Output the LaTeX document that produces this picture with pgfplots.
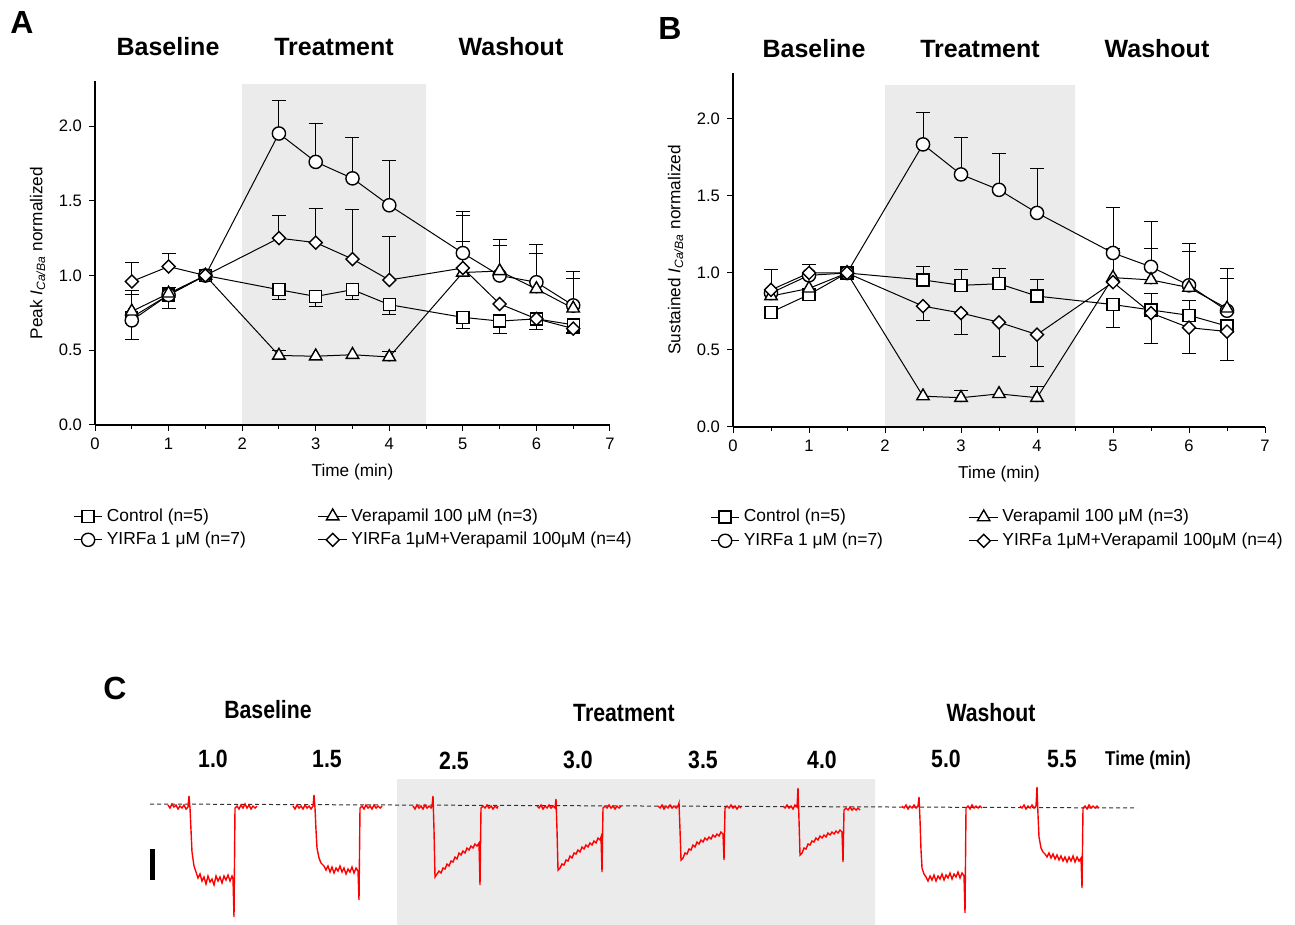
\documentclass[border=0pt]{standalone}
\usepackage{fontspec}
\setmainfont{Liberation Sans}
\usepackage{pgfplots}
\pgfplotsset{compat=1.18}
\definecolor{shade}{RGB}{235,235,235}
\definecolor{trace}{RGB}{255,0,0}
\pgfplotsset{
  panel/.style={
    scale only axis, axis on top,
    axis x line*=bottom, axis y line*=left,
    axis line style={-, line width=0.6pt},
    xmin=0, xmax=7, ymin=0, ymax=2.3,
    xtick={0,1,...,7}, minor xtick={0.5,1.5,...,6.5},
    ytick={0,0.5,...,2.0},
    tick align=outside, major tick length=3pt, minor tick length=2pt,
    tick style={line width=0.5pt, black},
    /pgf/number format/assume math mode=true,
    yticklabel style={/pgf/number format/.cd, fixed, fixed zerofill, precision=1},
    ticklabel style={font=\fontsize{8.3}{10}\selectfont},
    label style={font=\fontsize{8.6}{10}\selectfont},
    xlabel={Time (min)},
    clip=false,
    legend columns=2, transpose legend,
    legend style={draw=none, fill=none, inner sep=0pt, anchor=north west,
      font=\fontsize{8.7}{10.5}\selectfont, legend cell align=left,
      /tikz/column 2/.style={column sep=34pt}},
    legend image code/.code={\draw[mark repeat=2,mark phase=2] plot coordinates {(0cm,0cm) (0.25cm,0cm) (0.5cm,0cm)};},
    every axis plot/.append style={black, line width=0.5pt},
  },
  sq/.style={mark=square*, mark size=3pt, mark options={fill=white, line width=0.7pt, solid}},
  ci/.style={mark=*, mark size=3.3pt, mark options={fill=white, line width=0.7pt, solid}},
  tr/.style={mark=triangle*, mark size=3.6pt, mark options={fill=white, line width=0.7pt, solid}},
  di/.style={mark=square*, mark size=2.3pt, mark options={fill=white, line width=0.7pt, solid, rotate=45}},
  ebup/.style={forget plot, only marks, mark=none, error bars/.cd, y dir=plus, y explicit, error mark=-,
     error bar style={draw=black, solid, line width=0.5pt}, error mark options={rotate=90, mark size=3.5pt, line width=0.5pt, draw=black}},
  ebdn/.style={forget plot, only marks, mark=none, error bars/.cd, y dir=minus, y explicit, error mark=-,
     error bar style={draw=black, solid, line width=0.5pt}, error mark options={rotate=90, mark size=3.5pt, line width=0.5pt, draw=black}},
}
\begin{document}
\begin{tikzpicture}
\useasboundingbox (0,0) rectangle (647.5pt,462.5pt);
% ---------- overlay in pixel units: panel C and all headings ----------
\begin{axis}[at={(323.75pt,231.25pt)}, anchor=center, scale only axis,
  width=647.5pt, height=462.5pt, xmin=0, xmax=1295, ymin=0, ymax=925,
  y dir=reverse, hide axis, clip=false]
\addplot[fill=shade, draw=none] coordinates {(397,779)(875,779)(875,925)(397,925)(397,779)};
\addplot[black!80, line width=0.5pt, dash pattern=on 2pt off 1.5pt] coordinates {(150,804)(1137,808)};
% traces
\addplot[trace, line width=0.7pt] coordinates {(168,805)(170,808)(172,804)(174,807)(176,805)(178,809)(180,806)(182,808)(184,805)(186,809)(188,807)(189,796)(190,808)(191,830)(192,852)(194,866)(196,872)(198,878)(200,874)(202,881)(204,877)(206,884)(208,876)(210,882)(212,879)(214,885)(216,876)(218,881)(220,877)(222,883)(224,876)(226,880)(228,875)(230,881)(232,876)(233,879)(234,917)(235,808)(237,806)(239,809)(241,805)(243,808)(245,804)(247,808)(249,805)(251,809)(253,806)(255,808)(257,806)};
\addplot[trace, line width=0.7pt] coordinates {(293,806)(295,809)(297,805)(299,808)(301,806)(303,809)(305,805)(307,808)(309,806)(311,809)(313,806)(314,795)(315,808)(316,830)(317,848)(319,858)(321,863)(324,866)(326,870)(328,866)(330,872)(332,867)(334,873)(336,868)(338,871)(340,866)(342,872)(344,868)(346,874)(348,869)(350,872)(352,867)(354,873)(356,868)(358,871)(359,900)(360,808)(362,806)(364,809)(366,805)(368,808)(370,806)(372,809)(374,805)(376,808)(378,806)(380,808)(382,806)};
\addplot[trace, line width=0.7pt] coordinates {(413,806)(415,809)(417,805)(419,808)(421,806)(423,809)(425,805)(427,808)(429,806)(431,808)(432,806)(433,796)(434,830)(435,877)(437,874)(439,871)(441,873)(443,868)(445,869)(447,864)(449,866)(451,861)(453,862)(455,857)(457,859)(459,853)(461,855)(463,851)(465,853)(467,848)(469,850)(471,846)(473,848)(475,844)(477,846)(479,843)(480,885)(481,808)(483,806)(485,808)(487,805)(489,808)(491,806)(493,809)(495,806)(497,808)(498,806)};
\addplot[trace, line width=0.7pt] coordinates {(537,806)(539,808)(541,805)(543,809)(545,806)(547,808)(549,805)(551,808)(553,806)(555,808)(556,799)(557,830)(558,870)(560,868)(562,864)(564,865)(566,860)(568,861)(570,856)(572,858)(574,853)(576,854)(578,850)(580,852)(582,847)(584,849)(586,845)(588,847)(590,843)(592,845)(594,841)(596,843)(598,838)(600,840)(601,837)(602,872)(603,808)(605,806)(607,808)(609,805)(611,808)(613,806)(615,809)(617,806)(619,808)(621,806)};
\addplot[trace, line width=0.7pt] coordinates {(658,806)(660,808)(662,805)(664,809)(666,806)(668,808)(670,805)(672,808)(674,806)(676,808)(678,806)(679,803)(680,830)(681,860)(683,858)(685,853)(687,854)(689,849)(691,850)(693,845)(695,847)(697,842)(699,844)(701,840)(703,842)(705,838)(707,840)(709,837)(711,839)(713,835)(715,837)(717,834)(719,836)(721,832)(723,834)(724,860)(725,808)(727,806)(729,808)(731,805)(733,808)(735,806)(737,809)(739,806)(741,808)};
\addplot[trace, line width=0.7pt] coordinates {(783,806)(785,808)(787,805)(789,808)(791,806)(793,809)(795,805)(797,807)(798,788)(799,820)(800,855)(802,853)(804,848)(806,849)(808,844)(810,845)(812,841)(814,842)(816,838)(818,840)(820,836)(822,838)(824,835)(826,837)(828,833)(830,835)(832,832)(834,834)(836,831)(838,833)(840,830)(842,832)(843,862)(844,810)(846,808)(848,810)(850,807)(852,810)(854,808)(856,810)(858,808)(860,810)};
\addplot[trace, line width=0.7pt] coordinates {(902,806)(904,808)(906,805)(908,809)(910,806)(912,808)(914,805)(916,808)(918,806)(919,797)(920,820)(921,850)(922,868)(924,874)(926,877)(928,881)(930,876)(932,880)(934,875)(936,881)(938,876)(940,879)(942,874)(944,880)(946,875)(948,878)(950,873)(952,879)(954,874)(956,877)(958,872)(960,878)(962,873)(964,876)(965,913)(966,808)(968,806)(970,809)(972,805)(974,808)(976,806)(978,808)(980,806)(982,808)};
\addplot[trace, line width=0.7pt] coordinates {(1020,806)(1022,808)(1024,805)(1026,809)(1028,806)(1030,808)(1032,805)(1034,808)(1036,806)(1037,787)(1038,815)(1039,837)(1041,848)(1043,852)(1045,854)(1047,857)(1049,853)(1051,858)(1053,854)(1055,859)(1057,855)(1059,860)(1061,856)(1063,861)(1065,857)(1067,862)(1069,857)(1071,861)(1073,856)(1075,862)(1077,857)(1079,861)(1081,858)(1082,888)(1083,808)(1085,806)(1087,809)(1089,805)(1091,808)(1093,806)(1095,808)(1097,806)(1099,808)};
% scale bar
\addplot[black, line width=2.5pt] coordinates {(152,849)(152,880)};
% panel letters
\node[font=\fontsize{16}{18}\selectfont\bfseries] at (axis cs:22,22) {A};
\node[font=\fontsize{16}{18}\selectfont\bfseries] at (axis cs:670,28) {B};
\node[font=\fontsize{16}{18}\selectfont\bfseries] at (axis cs:115,688) {C};
% headings A and B
\begin{scope}[every node/.style={font=\fontsize{12.5}{14}\selectfont\bfseries}]
\node at (axis cs:168,47) {Baseline};
\node at (axis cs:334,47) {Treatment};
\node at (axis cs:511,47) {Washout};
\node at (axis cs:814,49) {Baseline};
\node at (axis cs:980,49) {Treatment};
\node at (axis cs:1157,49) {Washout};
\end{scope}
% headings C
\begin{scope}[every node/.style={font=\fontsize{12.5}{14}\selectfont\bfseries, xscale=0.85}]
\node at (axis cs:268,710) {Baseline};
\node at (axis cs:624,713) {Treatment};
\node at (axis cs:991,713) {Washout};
\node at (axis cs:213,759) {1.0};
\node at (axis cs:327,759) {1.5};
\node at (axis cs:454,761) {2.5};
\node at (axis cs:578,760) {3.0};
\node at (axis cs:703,760) {3.5};
\node at (axis cs:822,760) {4.0};
\node at (axis cs:946,759) {5.0};
\node at (axis cs:1062,759) {5.5};
\end{scope}
\node[font=\fontsize{10}{12}\selectfont\bfseries, xscale=0.85] at (axis cs:1148,760) {Time (min)};
\end{axis}
% ---------- Panel A ----------
\begin{axis}[panel, at={(47.5pt,250pt)}, anchor=south west, width=257.5pt, height=171.9pt,
  ylabel={Peak \textit{I}\textsubscript{\textit{Ca/Ba}} normalized},
  legend style={at={(-0.0427,-0.2298)}}]
\addplot[fill=shade, draw=none, forget plot] coordinates {(2,0)(4.5,0)(4.5,2.28)(2,2.28)(2,0)};
\addplot[ebup] coordinates {
 (0.5,0.72) +- (0,0.15)
 (2.5,1.95) +- (0,0.22) (3,1.76) +- (0,0.26) (3.5,1.65) +- (0,0.27) (4,1.47) +- (0,0.30)
 (5,1.15) +- (0,0.28) (5.5,1.00) +- (0,0.24) (6,0.955) +- (0,0.25) (6.5,0.80) +- (0,0.23)
 (0.5,0.76) +- (0,0.14) (1,0.88) +- (0,0.04) (2.5,0.465) +- (0,0.035) (4,0.455) +- (0,0.035)
 (5,1.02) +- (0,0.38) (5.5,1.03) +- (0,0.17) (6,0.91) +- (0,0.24) (6.5,0.78) +- (0,0.20)
 (0.5,0.96) +- (0,0.13) (1,1.06) +- (0,0.09) (2.5,1.25) +- (0,0.15) (3,1.22) +- (0,0.23)
 (3.5,1.11) +- (0,0.33) (4,0.97) +- (0,0.29) (5,1.05) +- (0,0.18)};
\addplot[ebdn] coordinates {
 (2.5,0.905) +- (0,0.065) (3,0.86) +- (0,0.07) (3.5,0.905) +- (0,0.065) (4,0.805) +- (0,0.065)
 (5,0.72) +- (0,0.075) (5.5,0.695) +- (0,0.08) (6,0.71) +- (0,0.07) (6.5,0.67) +- (0,0.05)
 (0.5,0.70) +- (0,0.13) (1,0.87) +- (0,0.09) (6.5,0.645) +- (0,0.03)};
\addplot[sq] coordinates {(0.5,0.72)(1,0.87)(1.5,1.0)(2.5,0.905)(3,0.86)(3.5,0.905)(4,0.805)(5,0.72)(5.5,0.695)(6,0.71)(6.5,0.67)};
\addlegendentry{Control (n=5)}
\addplot[ci] coordinates {(0.5,0.70)(1,0.87)(1.5,1.0)(2.5,1.95)(3,1.76)(3.5,1.65)(4,1.47)(5,1.15)(5.5,1.00)(6,0.955)(6.5,0.80)};
\addlegendentry{YIRFa 1 μM (n=7)}
\addplot[tr] coordinates {(0.5,0.76)(1,0.88)(1.5,1.0)(2.5,0.465)(3,0.46)(3.5,0.47)(4,0.455)(5,1.02)(5.5,1.03)(6,0.91)(6.5,0.78)};
\addlegendentry{Verapamil 100 μM (n=3)}
\addplot[di] coordinates {(0.5,0.96)(1,1.06)(1.5,1.0)(2.5,1.25)(3,1.22)(3.5,1.11)(4,0.97)(5,1.05)(5.5,0.81)(6,0.71)(6.5,0.645)};
\addlegendentry{YIRFa 1μM+Verapamil 100μM (n=4)}
\end{axis}
% ---------- Panel B ----------
\begin{axis}[panel, at={(366.5pt,249pt)}, anchor=south west, width=266pt, height=177.1pt,
  ylabel={Sustained \textit{I}\textsubscript{\textit{Ca/Ba}} normalized},
  legend style={at={(-0.0432,-0.2202)}, /tikz/column 2/.style={column sep=41pt}}]
\addplot[fill=shade, draw=none, forget plot] coordinates {(2,0)(4.5,0)(4.5,2.22)(2,2.22)(2,0)};
\addplot[ebup] coordinates {
 (0.5,0.89) +- (0,0.13) (1,0.985) +- (0,0.067)
 (2.5,1.835) +- (0,0.205) (3,1.64) +- (0,0.24) (3.5,1.54) +- (0,0.235) (4,1.39) +- (0,0.29)
 (5,1.13) +- (0,0.295) (5.5,1.04) +- (0,0.295) (6,0.92) +- (0,0.27) (6.5,0.755) +- (0,0.21)
 (2.5,0.955) +- (0,0.085) (3,0.92) +- (0,0.105) (3.5,0.93) +- (0,0.10) (4,0.85) +- (0,0.11)
 (5.5,0.76) +- (0,0.11) (6,0.725) +- (0,0.095)
 (3,0.19) +- (0,0.05) (4,0.19) +- (0,0.07) (5,0.97) +- (0,0.19) (5.5,0.955) +- (0,0.205)
 (6,0.905) +- (0,0.235) (6.5,0.77) +- (0,0.26)};
\addplot[ebdn] coordinates {
 (2.5,0.785) +- (0,0.095) (3,0.74) +- (0,0.14) (3.5,0.68) +- (0,0.225) (4,0.60) +- (0,0.205)
 (5.5,0.74) +- (0,0.20) (6,0.645) +- (0,0.17) (6.5,0.62) +- (0,0.19) (5,0.795) +- (0,0.15)};
\addplot[sq] coordinates {(0.5,0.745)(1,0.86)(1.5,1.0)(2.5,0.955)(3,0.92)(3.5,0.93)(4,0.85)(5,0.795)(5.5,0.76)(6,0.725)(6.5,0.655)};
\addlegendentry{Control (n=5)}
\addplot[ci] coordinates {(0.5,0.87)(1,0.985)(1.5,1.0)(2.5,1.835)(3,1.64)(3.5,1.54)(4,1.39)(5,1.13)(5.5,1.04)(6,0.92)(6.5,0.755)};
\addlegendentry{YIRFa 1 μM (n=7)}
\addplot[tr] coordinates {(0.5,0.85)(1,0.90)(1.5,1.0)(2.5,0.20)(3,0.19)(3.5,0.215)(4,0.19)(5,0.97)(5.5,0.955)(6,0.905)(6.5,0.77)};
\addlegendentry{Verapamil 100 μM (n=3)}
\addplot[di] coordinates {(0.5,0.89)(1,1.0)(1.5,1.0)(2.5,0.785)(3,0.74)(3.5,0.68)(4,0.60)(5,0.94)(5.5,0.74)(6,0.645)(6.5,0.62)};
\addlegendentry{YIRFa 1μM+Verapamil 100μM (n=4)}
\end{axis}
\end{tikzpicture}
\end{document}
